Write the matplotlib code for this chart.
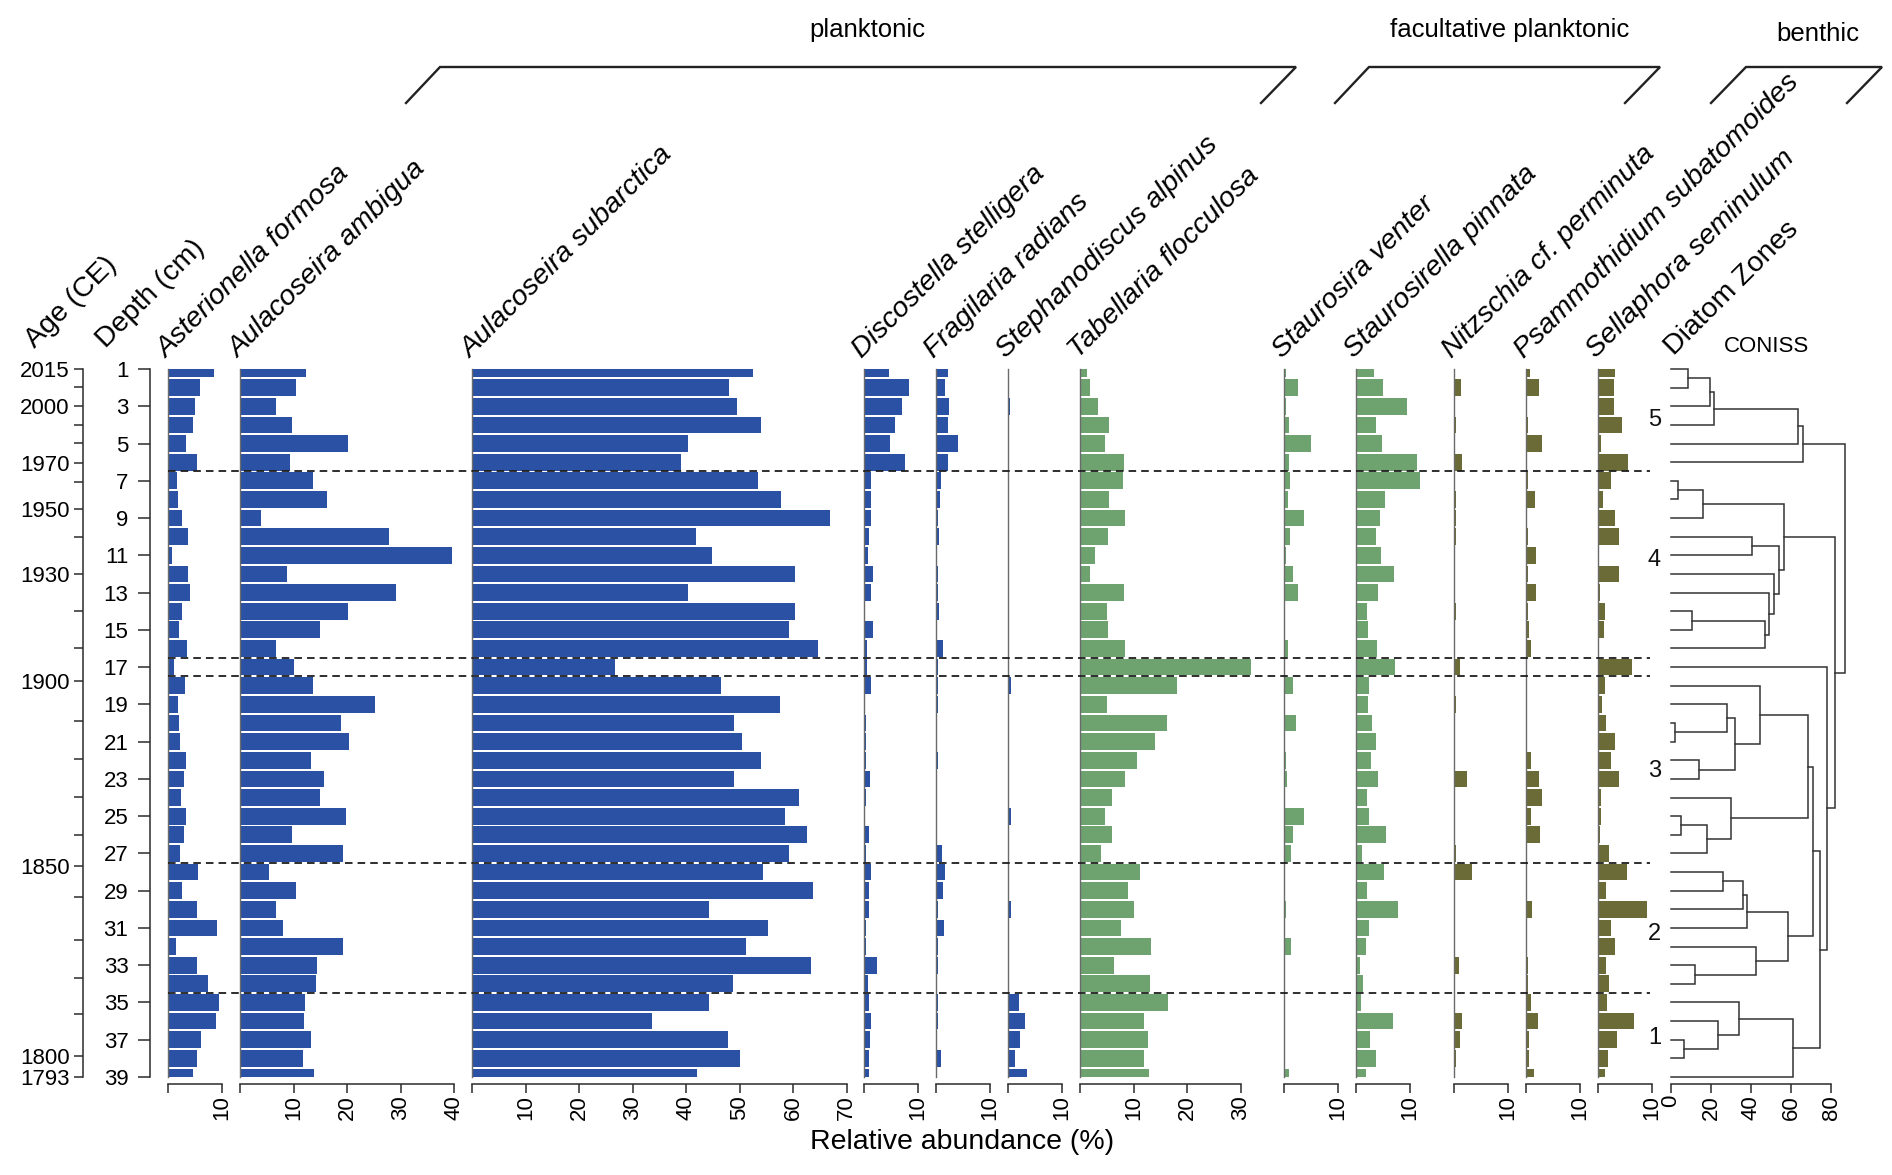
import numpy as np
import matplotlib
matplotlib.use("Agg")
import matplotlib.pyplot as plt

plt.rcParams['font.family'] = ['Liberation Sans', 'DejaVu Sans']

# figure size in pixels (dpi 100)
W, H = 1892, 1175

depths = np.arange(1, 40)

# relative abundance (%) by sample depth 1..39
asterionella_formosa = [8.6, 5.9, 5.1, 4.6, 3.4, 5.4, 1.7, 1.8, 2.7, 3.8,
                        0.7, 3.7, 4.2, 2.7, 2.0, 3.6, 1.2, 3.1, 1.8, 2.0,
                        2.2, 3.3, 2.9, 2.4, 3.4, 3.0, 2.3, 5.7, 2.7, 5.5,
                        9.2, 1.5, 5.4, 7.4, 9.6, 9.0, 6.2, 5.5, 4.6]
aulacoseira_ambigua = [12.3, 10.4, 6.7, 9.7, 20.1, 9.4, 13.7, 16.2, 4.0, 27.9,
                       39.7, 8.7, 29.2, 20.1, 15.0, 6.8, 10.0, 13.6, 25.2, 18.8,
                       20.3, 13.3, 15.7, 15.0, 19.8, 9.7, 19.2, 5.5, 10.5, 6.8,
                       8.1, 19.2, 14.4, 14.2, 12.1, 12.0, 13.3, 11.8, 13.9]
aulacoseira_subarctica = [52.5, 48.0, 49.5, 54.0, 40.4, 39.0, 53.4, 57.8, 67.0, 41.9,
                          44.8, 60.3, 40.4, 60.3, 59.2, 64.7, 26.7, 46.6, 57.5, 49.0,
                          50.5, 54.0, 49.0, 61.2, 58.5, 62.6, 59.2, 54.3, 63.7, 44.3,
                          55.4, 51.3, 63.3, 48.8, 44.3, 33.7, 47.9, 50.0, 42.1]
discostella_stelligera = [4.7, 8.4, 7.1, 5.75, 4.9, 7.6, 1.4, 1.25, 1.3, 0.9,
                          0.75, 1.6, 1.4, 0.1, 1.6, 0.5, 0.5, 1.3, 0.2, 0.45,
                          0.45, 0.45, 1.2, 0.45, 0.0, 0.95, 0.3, 1.3, 1.0, 1.0,
                          0.45, 0.45, 2.4, 0.75, 1.0, 1.4, 1.2, 0.95, 0.95]
fragilaria_radians = [2.3, 1.7, 2.4, 2.3, 4.1, 2.2, 1.0, 0.75, 0.45, 0.55,
                      0.1, 0.45, 0.45, 0.6, 0.05, 1.25, 0.45, 0.45, 0.45, 0.2,
                      0.0, 0.45, 0.0, 0.0, 0.0, 0.0, 1.05, 1.6, 1.25, 0.45,
                      1.5, 0.45, 0.45, 0.05, 0.45, 0.45, 0.0, 0.9, 0.0]
stephanodiscus_alpinus = [0, 0, 0.45, 0, 0, 0, 0, 0, 0, 0,
                          0, 0.2, 0, 0, 0, 0, 0, 0.5, 0, 0,
                          0, 0, 0, 0, 0.5, 0, 0, 0, 0, 0.5,
                          0, 0, 0, 0, 2.1, 3.1, 2.25, 1.25, 3.6]
tabellaria_flocculosa = [1.4, 1.8, 3.4, 5.5, 4.75, 8.2, 8.0, 5.4, 8.4, 5.2,
                         2.75, 1.8, 8.3, 5.0, 5.25, 8.5, 32.0, 18.2, 5.1, 16.2,
                         14.1, 10.7, 8.5, 6.0, 4.7, 5.9, 4.0, 11.3, 9.0, 10.1,
                         7.6, 13.2, 6.3, 13.0, 16.5, 12.0, 12.8, 11.9, 12.9]
staurosira_venter = [0.3, 2.7, 0.3, 0.9, 5.1, 0.9, 1.2, 0.75, 3.7, 1.2,
                     0.45, 1.75, 2.7, 0, 0, 0.7, 0, 1.6, 0, 2.25,
                     0, 0.4, 0.6, 0, 3.8, 1.75, 1.4, 0, 0.1, 0.4,
                     0, 1.25, 0, 0, 0, 0, 0, 0, 0.95]
staurosirella_pinnata = [3.4, 5.1, 9.6, 3.8, 4.9, 11.4, 11.9, 5.5, 4.5, 3.75,
                         4.6, 7.1, 4.2, 2.1, 2.3, 4.0, 7.25, 2.4, 2.3, 3.0,
                         3.75, 2.75, 4.2, 2.1, 2.5, 5.6, 1.05, 5.25, 2.1, 7.9,
                         2.5, 1.9, 0.7, 1.25, 1.0, 6.9, 2.7, 3.7, 1.9]
nitzschia_perminuta = [0, 1.25, 0.2, 0.45, 0, 1.5, 0, 0.4, 0.45, 0.4,
                       0, 0, 0, 0.4, 0, 0, 1.05, 0, 0.4, 0,
                       0, 0.25, 2.45, 0, 0, 0.25, 0.45, 3.3, 0, 0.25,
                       0, 0.25, 0.95, 0, 0, 1.5, 1.2, 0.45, 0]
psammothidium_subatomoides = [0.8, 2.45, 0, 0.45, 2.9, 0, 0.4, 1.6, 0, 0.4,
                              1.8, 0.45, 1.9, 0.4, 0.55, 1.0, 0, 0.1, 0, 0,
                              0, 0.95, 2.45, 2.9, 0.95, 2.7, 0, 0, 0.1, 1.2,
                              0, 0, 0.4, 0.4, 0.95, 2.2, 0.6, 0.6, 1.45]
sellaphora_seminulum = [3.25, 2.9, 3.05, 4.55, 0.55, 5.55, 2.5, 0.95, 3.1, 3.95,
                        0.1, 3.9, 0.4, 1.4, 1.05, 0.1, 6.4, 1.3, 0.7, 1.45,
                        3.25, 2.45, 3.9, 0.6, 0.6, 0.45, 2.0, 5.5, 1.55, 9.25,
                        2.5, 3.2, 1.55, 2.0, 1.75, 6.75, 3.6, 1.95, 1.4]

# age scale: years and the depth they fall at
age_years = [2015, 2010, 2000, 1990, 1980, 1970, 1960, 1950, 1940, 1930, 1920, 1910,
             1900, 1890, 1880, 1870, 1860, 1850, 1840, 1830, 1820, 1810, 1800, 1793]
age_depths = [1.0, 1.99, 2.99, 4.02, 4.99, 6.03, 7.05, 8.51, 10.03, 12.0, 14.0, 15.96,
              17.75, 19.9, 21.95, 23.96, 26.0, 27.66, 29.36, 31.65, 33.7, 35.6, 37.86, 39.0]
age_labelled = [2015, 2000, 1970, 1950, 1930, 1900, 1850, 1800, 1793]

# diatom zones
zone_bounds = [6.5, 16.5, 17.5, 27.5, 34.5]
zone_names = ['5', '4', '3', '2', '1']
zone_mid = [3.74, 11.25, 22.6, 31.3, 36.9]

# CONISS clustering (hclust style: negative = sample, positive = earlier merge)
coniss_merge = [(-1, -2), (1, -3), (2, -4), (3, -5), (4, -6),
                (-7, -8), (6, -9), (-10, -11), (-14, -15), (9, -16),
                (-13, 10), (-12, 11), (8, 12), (7, 13), (-20, -21),
                (-19, 15), (-22, -23), (16, 17), (-18, 18), (-25, -26),
                (20, -27), (-24, 21), (19, 22), (-28, -29), (24, -30),
                (25, -31), (-33, -34), (-32, 27), (26, 28), (23, 29),
                (-37, -38), (-36, 31), (-35, 32), (33, -39), (30, 34),
                (-17, 35), (14, 36), (5, 37)]
coniss_height = [8.5, 19.7, 21.7, 63.5, 65.8,
                 3.4, 15.9, 40.4, 10.3, 46.9,
                 49.2, 51.6, 53.8, 56.3, 1.8,
                 27.9, 14.0, 32.1, 44.7, 4.9,
                 17.9, 29.9, 68.4, 25.8, 36.2,
                 38.2, 12.0, 42.5, 58.5, 71.2,
                 6.6, 23.7, 34.1, 60.8, 74.6,
                 77.9, 81.9, 87.0]

BLUE = '#2a51a3'
GREEN = '#6ea36f'
OLIVE = '#6b6b38'
DARK = '#2b2b2b'

# name, values, colour, last tick, left edge (px)
panels = [
    ("Asterionella formosa", asterionella_formosa, BLUE, 10, 168),
    ("Aulacoseira ambigua", aulacoseira_ambigua, BLUE, 40, 240),
    ("Aulacoseira subarctica", aulacoseira_subarctica, BLUE, 70, 472),
    ("Discostella stelligera", discostella_stelligera, BLUE, 10, 864),
    ("Fragilaria radians", fragilaria_radians, BLUE, 10, 936),
    ("Stephanodiscus alpinus", stephanodiscus_alpinus, BLUE, 10, 1008),
    ("Tabellaria flocculosa", tabellaria_flocculosa, GREEN, 30, 1080),
    ("Staurosira venter", staurosira_venter, GREEN, 10, 1284),
    ("Staurosirella pinnata", staurosirella_pinnata, GREEN, 10, 1356),
    ("Nitzschia cf. perminuta", nitzschia_perminuta, OLIVE, 10, 1454),
    ("Psammothidium subatomoides", psammothidium_subatomoides, OLIVE, 10, 1526),
    ("Sellaphora seminulum", sellaphora_seminulum, OLIVE, 10, 1598),
]
PX_PER_PCT = 5.35
TOP, BOT = 369, 1077
TICK_FS = 16

fig = plt.figure(figsize=(W / 100, H / 100), dpi=100)


def px_axes(x, y, w, h):
    return fig.add_axes([x / W, 1 - (y + h) / H, w / W, h / H])


def bottom_axis(ax, ticks, labels):
    ax.spines['bottom'].set_position(('outward', 5))
    ax.spines['bottom'].set_bounds(ticks[0], ticks[-1])
    ax.spines['bottom'].set_color(DARK)
    ax.spines['bottom'].set_linewidth(1.1)
    ax.set_xticks(ticks)
    ax.set_xticklabels(labels)
    ax.tick_params(axis='x', direction='out', length=6.5, width=1.1,
                   color=DARK, pad=1.5, labelsize=TICK_FS, labelrotation=90)


for name, vals, col, tmax, x0 in panels:
    vals = np.array(vals)
    xmax = max(tmax, vals.max())
    ax = px_axes(x0, TOP, xmax * PX_PER_PCT, BOT - TOP)
    ax.barh(depths, vals, height=0.9, color=col, edgecolor='none')
    ax.set_xlim(0, xmax)
    ax.set_ylim(39, 1)
    ax.patch.set_visible(False)
    for s in ['top', 'right']:
        ax.spines[s].set_visible(False)
    ax.spines['left'].set_color('#6a6a6a')
    ax.spines['left'].set_linewidth(1.0)
    ax.set_yticks([])
    ticks = list(range(0, tmax + 1, 10))
    bottom_axis(ax, ticks, [''] + [str(t) for t in ticks[1:]])

# age and depth scales
for xpos, tick_pos, tick_lab, tlen, tpad in [
        (83, age_depths, [str(a) if a in age_labelled else '' for a in age_years], 6.5, 3),
        (150, list(range(1, 40, 2)), [str(d) for d in range(1, 40, 2)], 8.5, 7)]:
    ax = px_axes(xpos, TOP, 2, BOT - TOP)
    ax.set_ylim(39, 1)
    ax.patch.set_visible(False)
    for s in ['top', 'right', 'bottom']:
        ax.spines[s].set_visible(False)
    ax.spines['left'].set_color(DARK)
    ax.spines['left'].set_linewidth(1.1)
    ax.set_xticks([])
    ax.set_yticks(tick_pos)
    ax.set_yticklabels(tick_lab)
    ax.tick_params(axis='y', direction='out', length=tlen, width=1.1,
                   color=DARK, pad=tpad, labelsize=TICK_FS)

# CONISS dendrogram
cx0, cscale = 1671, 2.0
cax = px_axes(cx0, TOP, 80 * cscale, BOT - TOP)
cax.set_xlim(0, 80)
cax.set_ylim(39, 1)
cax.patch.set_visible(False)
for s in ['top', 'right', 'left']:
    cax.spines[s].set_visible(False)
cax.set_yticks([])
bottom_axis(cax, [0, 20, 40, 60, 80], ['0', '20', '40', '60', '80'])

node_pos = {}


def member(ref):
    if ref < 0:
        return float(-ref), 0.0
    return node_pos[ref]


for i, ((a, b), h) in enumerate(zip(coniss_merge, coniss_height), start=1):
    ya, ha = member(a)
    yb, hb = member(b)
    cax.plot([ha, h, h, hb], [ya, ya, yb, yb], color='#333333', lw=1.1,
             clip_on=False, solid_joinstyle='miter')
    node_pos[i] = ((ya + yb) / 2, h)

# zone boundaries and zone numbers
zx0, zx1 = 168, 1650
zax = px_axes(zx0, TOP, zx1 - zx0, BOT - TOP)
zax.set_ylim(39, 1)
zax.axis('off')
zax.hlines(zone_bounds, 0, 1, transform=zax.get_yaxis_transform(),
           colors='#1e1e1e', linestyles=(0, (4.2, 2.8)), lw=1.3)
for z, d in zip(zone_names, zone_mid):
    zax.text(1.003, d, z, transform=zax.get_yaxis_transform(),
             ha='center', va='center', fontsize=17, color='#111111')

# overlay in pixel units for labels and group brackets
ov = fig.add_axes([0, 0, 1, 1], zorder=-1)
ov.set_xlim(0, W)
ov.set_ylim(H, 0)
ov.axis('off')

groups = [
    ("planktonic", [(406, 103), (440, 67), (1296, 67), (1261, 103)], 867, 30),
    ("facultative planktonic", [(1335, 103), (1369, 67), (1660, 67), (1625, 103)], 1510, 30),
    ("benthic", [(1711, 103), (1746, 67), (1882, 67), (1847, 103)], 1818, 34),
]
for gname, pts, tx, ty in groups:
    xs, ys = zip(*pts)
    ov.plot(xs, ys, color='#222222', lw=1.7, solid_joinstyle='miter')
    ov.text(tx, ty, gname, ha='center', va='center', fontsize=18.5)

label_kw = dict(rotation=45, rotation_mode='anchor', ha='left', va='baseline',
                fontsize=20.5, bbox=dict(fc='white', ec='none', pad=0.5))
for name, vals, col, tmax, x0 in panels:
    ov.text(x0 - 2, 359, name, style='italic', **label_kw)
ov.text(1674, 356, "Diatom Zones", **label_kw)
ov.text(35, 349, "Age (CE)", **label_kw)
ov.text(106, 349, "Depth (cm)", **label_kw)
ov.text(1766, 346, "CONISS", ha='center', va='center', fontsize=16)
ov.text(962, 1142, "Relative abundance (%)", ha='center', va='center', fontsize=20.5)

fig.savefig("out.png", dpi=100)
